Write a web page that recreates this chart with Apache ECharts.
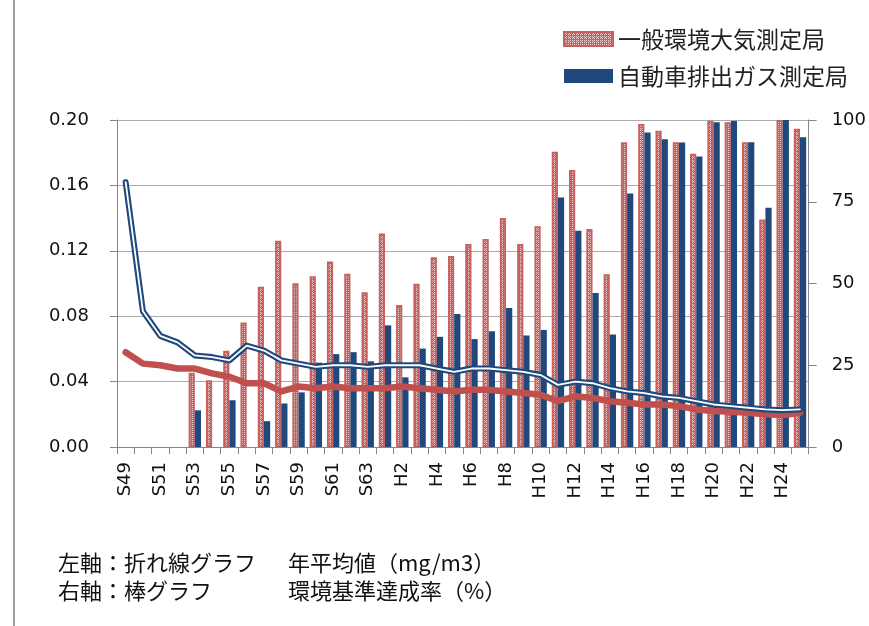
<!DOCTYPE html>
<html>
<head>
<meta charset="utf-8">
<style>
  html, body { margin: 0; padding: 0; background: #ffffff; }
  #chart { width: 869px; height: 626px; }
</style>
<script src="https://cdn.jsdelivr.net/npm/echarts@6/dist/echarts.min.js"></script>
</head>
<body>
<div id="chart"></div>
<script>
// Fiscal years (Showa 49 .. Heisei 25)
const years = [
  'S49','S50','S51','S52','S53','S54','S55','S56','S57','S58',
  'S59','S60','S61','S62','S63','H1','H2','H3','H4','H5',
  'H6','H7','H8','H9','H10','H11','H12','H13','H14','H15',
  'H16','H17','H18','H19','H20','H21','H22','H23','H24','H25'
];

// Attainment rate of the environmental standard (%), right axis
const generalRate = [
  null, null, null, null, 22.7, 20.4, 29.4, 38.1, 49.0, 63.1,
  50.1, 52.2, 56.7, 53.0, 47.3, 65.3, 43.4, 49.9, 58.0, 58.4,
  62.1, 63.6, 70.0, 62.1, 67.5, 90.3, 84.7, 66.7, 52.8, 93.2,
  98.8, 96.7, 93.2, 89.7, 99.8, 99.3, 93.2, 69.6, 100, 97.3
];
const roadsideRate = [
  null, null, null, null, 11.2, null, 14.3, null, 7.9, 13.3,
  16.7, 25.8, 28.4, 29.0, 26.2, 37.2, 21.3, 30.1, 33.7, 40.7,
  33.0, 35.4, 42.5, 34.1, 35.8, 76.3, 66.1, 47.1, 34.4, 77.5,
  96.2, 94.1, 93.1, 88.8, 99.3, 99.7, 93.2, 73.2, 100, 94.7
];

// Annual mean concentration (mg/m3), left axis
const roadsideMean = [
  0.162, 0.083, 0.068, 0.064, 0.056, 0.055, 0.053, 0.062, 0.059, 0.053,
  0.051, 0.049, 0.050, 0.050, 0.049, 0.050, 0.050, 0.050, 0.048, 0.046,
  0.048, 0.048, 0.047, 0.046, 0.044, 0.038, 0.040, 0.039, 0.036, 0.034,
  0.033, 0.031, 0.030, 0.028, 0.026, 0.025, 0.024, 0.023, 0.0225, 0.023
];
const generalMean = [
  0.058, 0.051, 0.050, 0.048, 0.048, 0.045, 0.043, 0.039, 0.039, 0.034,
  0.037, 0.036, 0.037, 0.036, 0.036, 0.036, 0.037, 0.036, 0.035, 0.034,
  0.035, 0.035, 0.034, 0.033, 0.032, 0.028, 0.031, 0.030, 0.028, 0.027,
  0.026, 0.026, 0.025, 0.023, 0.022, 0.0215, 0.021, 0.020, 0.0195, 0.021
];

const leftTicks = { min: 0, max: 0.2, step: 0.04 };
const rightTicks = { min: 0, max: 100, step: 25 };

const NAME_GENERAL = '一般環境大気測定局';
const NAME_ROADSIDE = '自動車排出ガス測定局';

const RED = '#C0504D';
const BLUE = '#1F497D';
const AXIS_GRAY = '#868686';
const NUM_FONT = 'DejaVu Sans';
const JP_FONT = 'Noto Sans CJK JP';

// Small cross-stitch tile used as the fill of the general-station bars
function crossTile() {
  const c = document.createElement('canvas');
  c.width = 4; c.height = 4;
  const g = c.getContext('2d');
  g.fillStyle = '#CB5E5B';
  g.fillRect(0, 0, 4, 4);
  g.fillStyle = '#F2CFCE';
  [[0, 0], [2, 0], [1, 1], [0, 2], [2, 2]].forEach(p => g.fillRect(p[0], p[1], 1, 1));
  return c;
}

const chart = echarts.init(document.getElementById('chart'), null, { renderer: 'canvas' });

const tickLabel = { fontFamily: NUM_FONT, fontSize: 18, color: '#111111' };
const noteFont = '22px "Noto Sans CJK JP"';

chart.setOption({
  animation: false,
  backgroundColor: '#ffffff',
  grid: { left: 117, right: 60, top: 120, bottom: 179, containLabel: false },
  legend: {
    data: [NAME_GENERAL, NAME_ROADSIDE],
    orient: 'vertical',
    left: 563,
    top: 27,
    padding: 0,
    icon: 'rect',
    itemWidth: 49,
    itemHeight: 14,
    itemGap: 13,
    textStyle: { fontFamily: JP_FONT, fontSize: 23, lineHeight: 24, color: '#222222' }
  },
  xAxis: {
    type: 'category',
    data: years,
    boundaryGap: true,
    axisLine: { lineStyle: { color: AXIS_GRAY, width: 1 } },
    axisTick: { show: true, interval: 0, length: 7, lineStyle: { color: AXIS_GRAY } },
    axisLabel: Object.assign({ interval: 1, rotate: 90, margin: 15 }, tickLabel),
    splitLine: { show: false }
  },
  yAxis: [
    {
      type: 'value',
      position: 'left',
      min: leftTicks.min,
      max: leftTicks.max,
      interval: leftTicks.step,
      axisLine: { show: true, lineStyle: { color: AXIS_GRAY } },
      axisTick: { show: true, length: 7, lineStyle: { color: AXIS_GRAY } },
      axisLabel: Object.assign({ margin: 28, formatter: v => v.toFixed(2) }, tickLabel),
      splitLine: { show: true, lineStyle: { color: '#ABABAB', width: 1 } }
    },
    {
      type: 'value',
      position: 'right',
      min: rightTicks.min,
      max: rightTicks.max,
      interval: rightTicks.step,
      axisLine: { show: true, lineStyle: { color: AXIS_GRAY } },
      axisTick: { show: true, length: 8, lineStyle: { color: AXIS_GRAY } },
      axisLabel: Object.assign({ margin: 23 }, tickLabel),
      splitLine: { show: false }
    }
  ],
  series: [
    {
      name: NAME_GENERAL,
      type: 'bar',
      yAxisIndex: 1,
      data: generalRate,
      barWidth: 6.2,
      barGap: '0%',
      itemStyle: {
        color: { image: crossTile(), repeat: 'repeat' },
        borderColor: '#C8605D',
        borderWidth: 1.8
      }
    },
    {
      name: NAME_ROADSIDE,
      type: 'bar',
      yAxisIndex: 1,
      data: roadsideRate,
      barWidth: 6.2,
      barGap: '0%',
      itemStyle: { color: BLUE }
    },
    {
      name: '一般局 年平均値',
      type: 'line',
      yAxisIndex: 0,
      data: generalMean,
      symbol: 'none',
      lineStyle: { color: RED, width: 6.5, cap: 'round', join: 'round' },
      z: 3
    },
    {
      name: '自排局 年平均値',
      type: 'line',
      yAxisIndex: 0,
      data: roadsideMean,
      symbol: 'none',
      lineStyle: { color: BLUE, width: 6, cap: 'round', join: 'round' },
      z: 4
    },
    {
      name: '自排局 年平均値 ',
      type: 'line',
      yAxisIndex: 0,
      data: roadsideMean,
      symbol: 'none',
      lineStyle: { color: '#ffffff', width: 1.8, cap: 'round', join: 'round' },
      z: 5
    }
  ],
  graphic: [
    { type: 'line', shape: { x1: 14, y1: 0, x2: 14, y2: 626 }, style: { stroke: '#A0A0A0', lineWidth: 2 } },
    { type: 'text', left: 58, top: 552, style: { text: '左軸：折れ線グラフ', font: noteFont, fill: '#111111' } },
    { type: 'text', left: 288, top: 552, style: { text: '年平均値（mg/m3）', font: noteFont, fill: '#111111' } },
    { type: 'text', left: 58, top: 580, style: { text: '右軸：棒グラフ', font: noteFont, fill: '#111111' } },
    { type: 'text', left: 288, top: 580, style: { text: '環境基準達成率（%）', font: noteFont, fill: '#111111' } }
  ]
});
</script>
</body>
</html>
